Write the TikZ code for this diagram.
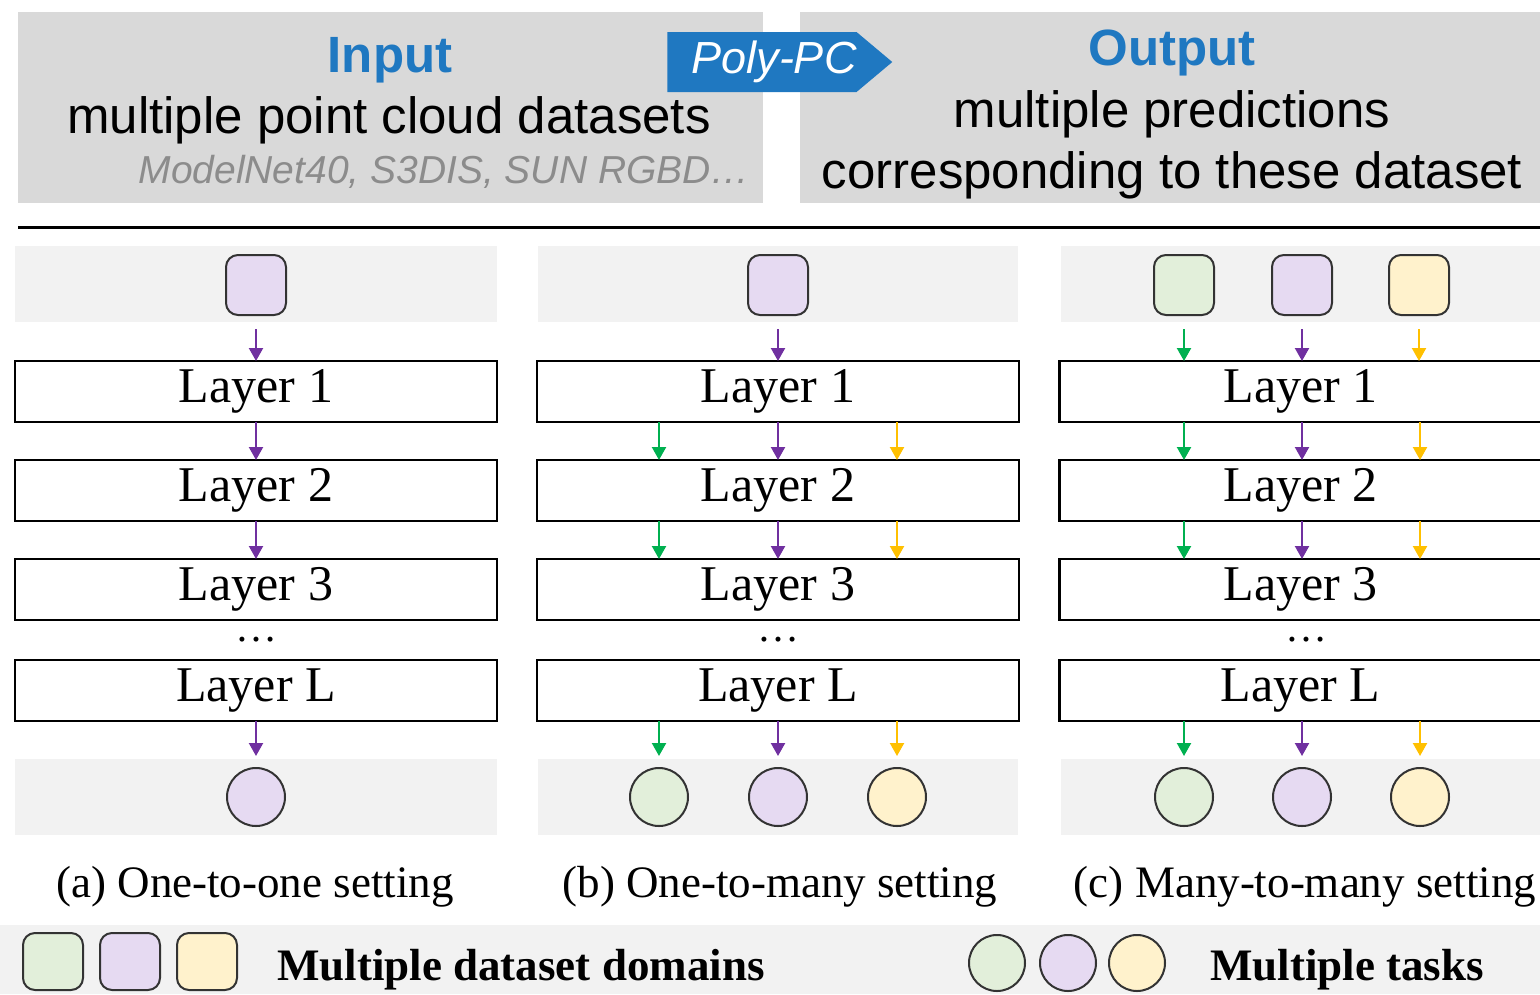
\documentclass[tikz,border=0pt]{standalone}
\usepackage{fontspec}
\setmainfont{Liberation Serif}
\newfontfamily\arialfont{Liberation Sans}
\usepackage{tikz}
\usetikzlibrary{arrows,arrows.meta,calc,positioning,shapes.symbols}

\definecolor{dsgreen}{HTML}{E2EFDA}
\definecolor{dspurple}{HTML}{E6DAF2}
\definecolor{dsyellow}{HTML}{FFF2CC}
\definecolor{argreen}{HTML}{00B050}
\definecolor{arpurple}{HTML}{7030A0}
\definecolor{aryellow}{HTML}{FFC000}
\definecolor{polyblue}{HTML}{1F78C1}
\definecolor{boxgray}{HTML}{D9D9D9}
\definecolor{bandgray}{HTML}{F2F2F2}
\definecolor{setgray}{HTML}{8C8C8C}

\tikzset{
  layerbox/.style={draw, line width=2.5pt, minimum width=482pt, minimum height=61pt,
    inner sep=0pt, outer sep=0pt, font=\fontsize{50}{50}\selectfont},
  dsbox/.style={draw=black!80, line width=2pt, rounded corners=12pt,
    minimum width=60pt, minimum height=60pt, inner sep=0pt},
  taskdot/.style={draw=black!80, line width=2pt, circle, minimum size=58pt, inner sep=0pt},
  flow/.style={-{Triangle[length=13pt,width=14pt]}, line width=2.2pt},
  headtext/.style={inner sep=0pt, anchor=base, font=\arialfont\fontsize{51}{51}\selectfont},
  captext/.style={inner sep=0pt, anchor=base, font=\fontsize{45}{45}\selectfont},
  legtext/.style={inner sep=0pt, anchor=base west, font=\bfseries\fontsize{45}{45}\selectfont},
  moredots/.style={inner sep=0pt, anchor=base, text height=6pt, text depth=0pt,
    font=\fontsize{42}{42}\selectfont}
}

\begin{document}
\begin{tikzpicture}[x=1pt,y=-1pt,>=stealth']
    \useasboundingbox (0,0) rectangle (1540,994);

    % header
    \fill[boxgray] (18,12) rectangle (763,203);
    \fill[boxgray] (800,12) rectangle (1540,203);
    \node[headtext, text=polyblue, font=\arialfont\bfseries\fontsize{51}{51}\selectfont] (in-title) at (390,72) {Input};
    \node[headtext] (in-text) at (389,133) {multiple point cloud datasets};
    \node[headtext, anchor=base east, text=setgray, font=\arialfont\itshape\fontsize{39}{39}\selectfont] (in-sets) at (750,183) {ModelNet40, S3DIS, SUN RGBD\dots};
    \node[signal, signal to=east, signal pointer angle=80, fill=polyblue, text=white,
          minimum width=222pt, minimum height=60pt, inner sep=0pt,
          font=\arialfont\itshape\fontsize{45}{45}\selectfont] (polypc) at (762,62) {\hspace*{24pt}Poly-PC};
    \node[headtext, text=polyblue, font=\arialfont\bfseries\fontsize{51}{51}\selectfont] (out-title) at (1172,65) {Output};
    \node[headtext] (out-text) at (1172,127) {multiple predictions};
    \node[headtext] (out-sets) at (1172,188) {corresponding to these dataset};
    \draw[line width=3pt] (18,227) -- (1540,227);

    % gray bands
    \fill[bandgray] (15,246) rectangle (497,322);
    \fill[bandgray] (538,246) rectangle (1018,322);
    \fill[bandgray] (1061,246) rectangle (1540,322);
    \fill[bandgray] (15,759) rectangle (497,835);
    \fill[bandgray] (538,759) rectangle (1018,835);
    \fill[bandgray] (1061,759) rectangle (1540,835);

    % (a) one-to-one
    \node[dsbox, fill=dspurple] (a-sq) at (256,285) {};
    \node[layerbox] (a-1) at (256,391.5) {Layer 1};
    \node[layerbox] (a-2) [below=38pt of a-1] {Layer 2};
    \node[layerbox] (a-3) [below=38pt of a-2] {Layer 3};
    \node[layerbox] (a-L) [below=40pt of a-3] {Layer L};
    \node[moredots] (a-dots) at (256,641) {\dots};
    \node[taskdot, fill=dspurple] (a-t) at (256,797) {};
    \node[captext] (a-cap) at (255,897) {(a) One-to-one setting};

    \path[flow, arpurple] (a-sq) edge[shorten <=13pt] (a-1);
    \path[flow, arpurple] (a-1) edge (a-2);
    \path[flow, arpurple] (a-2) edge (a-3);
    \path[flow, arpurple] (a-L) edge[shorten >=11pt] (a-t);

    % (b) one-to-many
    \node[dsbox, fill=dspurple] (b-sq) at (778,285) {};
    \node[layerbox] (b-1) at (778,391.5) {Layer 1};
    \node[layerbox] (b-2) [below=38pt of b-1] {Layer 2};
    \node[layerbox] (b-3) [below=38pt of b-2] {Layer 3};
    \node[layerbox] (b-L) [below=40pt of b-3] {Layer L};
    \node[moredots] (b-dots) at (778,641) {\dots};
    \node[taskdot, fill=dsgreen] (b-t1) at (659,797) {};
    \node[taskdot, fill=dspurple] (b-t2) at (778,797) {};
    \node[taskdot, fill=dsyellow] (b-t3) at (897,797) {};
    \node[captext] (b-cap) at (780,897) {(b) One-to-many setting};

    \path[flow, arpurple] (b-sq) edge[shorten <=13pt] (b-1);
    \path[flow, argreen] (b-1.south -| b-t1) edge (b-2.north -| b-t1);
    \path[flow, arpurple] (b-1.south -| b-t2) edge (b-2.north -| b-t2);
    \path[flow, aryellow] (b-1.south -| b-t3) edge (b-2.north -| b-t3);
    \path[flow, argreen] (b-2.south -| b-t1) edge (b-3.north -| b-t1);
    \path[flow, arpurple] (b-2.south -| b-t2) edge (b-3.north -| b-t2);
    \path[flow, aryellow] (b-2.south -| b-t3) edge (b-3.north -| b-t3);
    \path[flow, argreen] (b-L.south -| b-t1) edge[shorten >=11pt] (b-t1);
    \path[flow, arpurple] (b-L.south -| b-t2) edge[shorten >=11pt] (b-t2);
    \path[flow, aryellow] (b-L.south -| b-t3) edge[shorten >=11pt] (b-t3);

    % (c) many-to-many
    \node[dsbox, fill=dsgreen] (c-sq1) at (1184,285) {};
    \node[dsbox, fill=dspurple] (c-sq2) at (1302,285) {};
    \node[dsbox, fill=dsyellow] (c-sq3) at (1419,285) {};
    \node[layerbox] (c-1) at (1300.5,391.5) {Layer 1};
    \node[layerbox] (c-2) [below=38pt of c-1] {Layer 2};
    \node[layerbox] (c-3) [below=38pt of c-2] {Layer 3};
    \node[layerbox] (c-L) [below=40pt of c-3] {Layer L};
    \node[moredots] (c-dots) at (1306,641) {\dots};
    \node[taskdot, fill=dsgreen] (c-t1) at (1184,797) {};
    \node[taskdot, fill=dspurple] (c-t2) at (1302,797) {};
    \node[taskdot, fill=dsyellow] (c-t3) at (1420,797) {};
    \node[captext] (c-cap) at (1305,897) {(c) Many-to-many setting};

    \path[flow, argreen] (c-sq1) edge[shorten <=13pt] (c-1.north -| c-sq1);
    \path[flow, arpurple] (c-sq2) edge[shorten <=13pt] (c-1.north -| c-sq2);
    \path[flow, aryellow] (c-sq3) edge[shorten <=13pt] (c-1.north -| c-sq3);
    \path[flow, argreen] (c-1.south -| c-t1) edge (c-2.north -| c-t1);
    \path[flow, arpurple] (c-1.south -| c-t2) edge (c-2.north -| c-t2);
    \path[flow, aryellow] (c-1.south -| c-t3) edge (c-2.north -| c-t3);
    \path[flow, argreen] (c-2.south -| c-t1) edge (c-3.north -| c-t1);
    \path[flow, arpurple] (c-2.south -| c-t2) edge (c-3.north -| c-t2);
    \path[flow, aryellow] (c-2.south -| c-t3) edge (c-3.north -| c-t3);
    \path[flow, argreen] (c-L.south -| c-t1) edge[shorten >=11pt] (c-t1);
    \path[flow, arpurple] (c-L.south -| c-t2) edge[shorten >=11pt] (c-t2);
    \path[flow, aryellow] (c-L.south -| c-t3) edge[shorten >=11pt] (c-t3);

    % legend
    \fill[bandgray] (0,925) rectangle (1540,994);
    \node[dsbox, fill=dsgreen, minimum height=57pt] (leg-d1) at (53,961.5) {};
    \node[dsbox, fill=dspurple, minimum height=57pt] (leg-d2) at (130,961.5) {};
    \node[dsbox, fill=dsyellow, minimum height=57pt] (leg-d3) at (207,961.5) {};
    \node[legtext] (leg-dtext) at (277,980) {Multiple dataset domains};
    \node[taskdot, fill=dsgreen, minimum size=56pt] (leg-t1) at (997,963) {};
    \node[taskdot, fill=dspurple, minimum size=56pt] (leg-t2) at (1068,963) {};
    \node[taskdot, fill=dsyellow, minimum size=56pt] (leg-t3) at (1137,963) {};
    \node[legtext] (leg-ttext) at (1210,980) {Multiple tasks};

\end{tikzpicture}
\end{document}
